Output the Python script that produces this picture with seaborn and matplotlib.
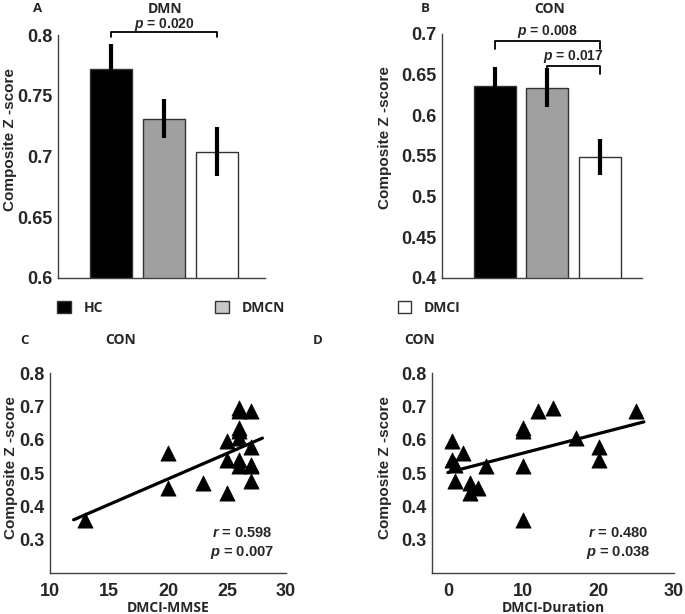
import numpy as np
import pandas as pd
import seaborn as sns
import matplotlib.pyplot as plt
from matplotlib.patches import Patch

# bar data (mean, sem)
groups = ["HC", "DMCN", "DMCI"]
bar_colors = ["#000000", "#a0a0a0", "#ffffff"]
legend_colors = ["#000000", "#c8c8c8", "#ffffff"]
dmn_mean = [0.772, 0.731, 0.704]
dmn_err = [0.021, 0.016, 0.020]
con_mean = [0.636, 0.634, 0.549]
con_err = [0.023, 0.024, 0.022]

# DMCI subjects
con_z = [0.595, 0.540, 0.525, 0.475, 0.560, 0.470, 0.440, 0.455, 0.520, 0.635,
         0.625, 0.520, 0.360, 0.685, 0.695, 0.605, 0.578, 0.540, 0.685]
duration = [0.5, 0.5, 1, 1, 2, 3, 3, 4, 5, 10, 10, 10, 10, 12, 14, 17, 20, 20, 25]
mmse = [25, 25, 27, 27, 20, 23, 25, 20, 26, 26, 26, 27, 13, 26, 26, 26, 27, 26, 27]

sns.set_style("white")
plt.rcParams["font.family"] = ["Liberation Sans", "DejaVu Sans"]
plt.rcParams["font.weight"] = "bold"
plt.rcParams["mathtext.fontset"] = "custom"
plt.rcParams["mathtext.it"] = "Liberation Sans:italic:bold"
plt.rcParams["mathtext.rm"] = "Liberation Sans:bold"

W, H = 685, 614
fig = plt.figure(figsize=(W / 100, H / 100), dpi=100)


def add_ax(l, r, t, b):
    return fig.add_axes([l / W, 1 - b / H, (r - l) / W, (b - t) / H])


def style(ax):
    sns.despine(ax=ax)
    for s in ["left", "bottom"]:
        ax.spines[s].set_color("#404040")
        ax.spines[s].set_linewidth(1.0)
    ax.tick_params(direction="in", length=3, width=1, color="#404040",
                   labelsize=13, pad=4)
    for lab in ax.get_xticklabels() + ax.get_yticklabels():
        lab.set_fontweight("bold")


cal = ["Open Sans", "DejaVu Sans"]


def bar_panel(ax, means, errs, ylim, yticks, ticklabels, xmax):
    df = pd.DataFrame({"group": groups, "value": means})
    sns.barplot(data=df, x="group", y="value", hue="group", palette=bar_colors,
                edgecolor="#333333", linewidth=1, width=0.8, errorbar=None,
                legend=False, ax=ax)
    ax.errorbar(range(3), means, yerr=errs, fmt="none", ecolor="black",
                elinewidth=3, capsize=0, zorder=5)
    ax.set_ylim(*ylim)
    ax.set_xlim(-1, xmax)
    ax.set_yticks(yticks)
    ax.set_yticklabels(ticklabels)
    ax.set_xticks([])
    ax.set_xlabel("")
    ax.set_ylabel("Composite Z -score", fontsize=11, fontweight="bold")
    style(ax)


def bracket(ax, x0, x1, y, drop, text, ty):
    ax.plot([x0, x0, x1, x1], [y - drop, y, y, y - drop], color="black",
            lw=1.3, clip_on=False, zorder=6)
    ax.text((x0 + x1) / 2, ty, text, ha="center", va="center", fontsize=10,
            fontweight="bold", clip_on=False)


def label(x, y, s, size=10):
    fig.text(x / W, 1 - y / H, s, ha="center", va="center", fontsize=size,
             fontweight="bold", family=cal)


# A: DMN
axA = add_ax(58, 265, 35, 278)
bar_panel(axA, dmn_mean, dmn_err, (0.6, 0.8), [0.6, 0.65, 0.7, 0.75, 0.8],
          ["0.6", "0.65", "0.7", "0.75", "0.8"], 2.9)
axA.yaxis.set_label_coords(-0.198, 0.57)
bracket(axA, 0, 2, 0.8025, 0.0045, r"$p$ = 0.020", 0.8085)
label(38, 9, "A", 9.5)
label(165, 9, "DMN")

# B: CON
axB = add_ax(442, 642, 34, 278)
bar_panel(axB, con_mean, con_err, (0.4, 0.7), [0.4, 0.45, 0.5, 0.55, 0.6, 0.65, 0.7],
          ["0.4", "0.45", "0.5", "0.55", "0.6", "0.65", "0.7"], 2.8)
axB.yaxis.set_label_coords(-0.25, 0.574)
bracket(axB, 0, 2, 0.692, 0.011, r"$p$ = 0.008", 0.703)
bracket(axB, 1, 2, 0.661, 0.010, r"$p$ = 0.017", 0.672)
label(425, 9, "B", 9.5)
label(550, 9, "CON")

# legend
handles = [Patch(facecolor=c, edgecolor="#333333", linewidth=1, label=g)
           for g, c in zip(groups, legend_colors)]
fig.legend(handles=handles, loc="center left", bbox_to_anchor=(57 / W, 1 - 308 / H),
           ncol=3, frameon=False, borderpad=0, borderaxespad=0,
           handlelength=1.0, handleheight=1.0, handletextpad=0.9,
           columnspacing=8.1, prop={"family": cal, "weight": "bold", "size": 10})


def scatter_panel(ax, x, xlim, xticks, line_x, xlabel, rtxt, ptxt, tx):
    df = pd.DataFrame({"x": x, "z": con_z})
    sns.scatterplot(data=df, x="x", y="z", marker="^", s=120, color="black",
                    edgecolor="black", linewidth=0.5, ax=ax, zorder=4)
    slope, icpt = np.polyfit(df["x"], df["z"], 1)
    lx = np.array(line_x)
    ax.plot(lx, slope * lx + icpt, color="black", lw=2.3, zorder=3)
    ax.set_xlim(*xlim)
    ax.set_ylim(0.2, 0.8)
    ax.set_xticks(xticks)
    ax.set_yticks([0.3, 0.4, 0.5, 0.6, 0.7, 0.8])
    ax.set_xlabel(xlabel, fontsize=10, fontweight="bold", family=cal, labelpad=1)
    ax.set_ylabel("Composite Z -score", fontsize=11, fontweight="bold")
    ax.text(tx, 0.32, rtxt, ha="center", va="center", fontsize=10.5,
            fontweight="bold")
    ax.text(tx, 0.262, ptxt, ha="center", va="center", fontsize=10.5,
            fontweight="bold")
    style(ax)
    ax.tick_params(axis="x", pad=7)


# C
axC = add_ax(50, 286, 373, 573)
scatter_panel(axC, mmse, (10, 30), [10, 15, 20, 25, 30], [12, 28], "DMCI-MMSE",
              r"$r$ = 0.598", r"$p$ = 0.007", 26.3)
axC.yaxis.set_label_coords(-0.136, 0.525)
label(24, 340, "C", 9.5)
label(121, 340, "CON")

# D
axD = add_ax(432, 674, 373, 573)
scatter_panel(axD, duration, (-2.1, 30), [0, 10, 20, 30], [0, 26], "DMCI-Duration",
              r"$r$ = 0.480", r"$p$ = 0.038", 22.6)
axD.yaxis.set_label_coords(-0.165, 0.525)
label(318, 340, "D", 9.5)
label(420, 340, "CON")

fig.savefig("out.png", dpi=100)
